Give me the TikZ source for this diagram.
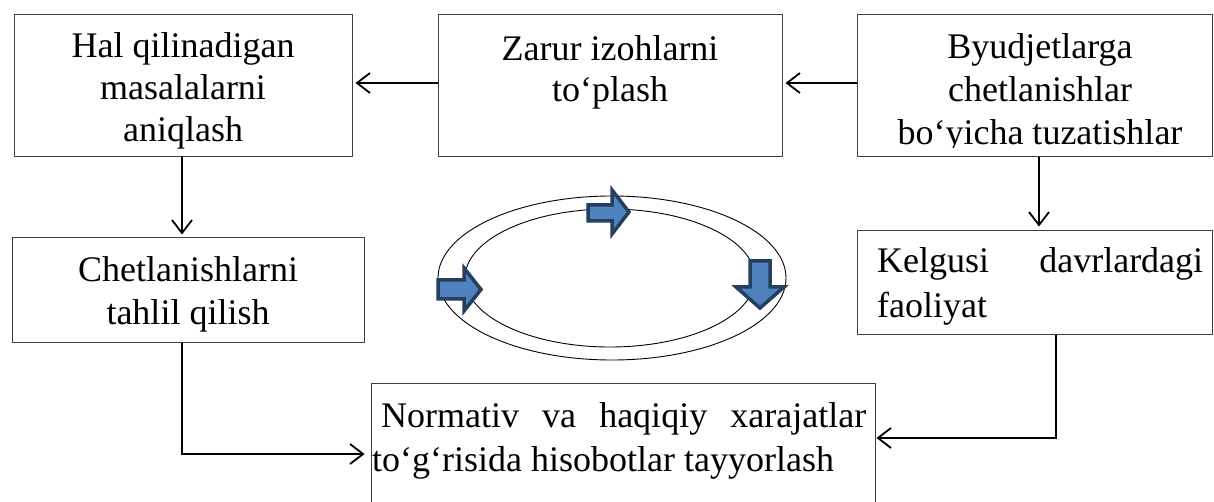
\documentclass[tikz,border=0pt]{standalone}
\usepackage{fontspec}
\setmainfont{Liberation Serif}
\usetikzlibrary{arrows.meta}
\definecolor{arrowfill}{HTML}{4F81BD}
\definecolor{arrowline}{HTML}{243F60}
\newcommand\clines[2]{\vtop{\baselineskip=#1\lineskiplimit=-100pt\halign{\hfil##\hfil\cr#2\crcr}}}
\newcommand\llines[2]{\vtop{\baselineskip=#1\lineskiplimit=-100pt\halign{##\hfil\cr#2\crcr}}}
\begin{document}
\begin{tikzpicture}[x=1pt,y=-1pt,
  font=\fontsize{36}{42}\selectfont,
  box/.style={draw=black!75, line width=1pt, inner sep=0pt},
  txt/.style={inner sep=0pt, anchor=base},
  ltxt/.style={inner sep=0pt, anchor=base west},
  conn/.style={line width=1.8pt, -{Straight Barb[length=13pt,width=20pt,line width=1.8pt]}},
  ring/.style={draw=black, line width=0.9pt},
  blk/.style={fill=arrowfill, draw=arrowline, line width=3.5pt, line join=miter}]
\useasboundingbox (0,0) rectangle (1214,502);
% boxes
\node[box, minimum width=338pt, minimum height=142pt] (b1) at (183,86) {};
\node[box, minimum width=344pt, minimum height=142pt] (b2) at (610,86) {};
\node[box, minimum width=355pt, minimum height=142pt] (b3) at (1034.5,86) {};
\node[box, minimum width=355pt, minimum height=103pt] (b4) at (1034.5,282.5) {};
\node[box, minimum width=352pt, minimum height=104pt] (b5) at (188,290) {};
\node[box, minimum width=504pt, minimum height=127pt] (b6) at (623,446.5) {};
% texts
\node[txt] (t1) at (183,58) {\clines{42pt}{Hal qilinadigan\cr masalalarni\cr aniqlash}};
\node[txt] (t2) at (610,61) {\clines{41pt}{Zarur izohlarni\cr to‘plash}};
\begin{scope}
\clip (b3.north west) rectangle ([yshift=10pt]b3.south east);
\node[txt] (t3) at (1040,59) {\clines{43pt}{Byudjetlarga\cr chetlanishlar\cr bo‘yicha tuzatishlar}};
\end{scope}
\node[ltxt] (t4) at (877,273) {\llines{44pt}{\hbox to 326pt{Kelgusi\hfill davrlardagi}\cr faoliyat}};
\node[txt] (t5) at (188,282) {\clines{43pt}{Chetlanishlarni\cr tahlil qilish}};
\node[ltxt] (t6) at (372,427) {\llines{44pt}{\hskip9pt\hbox to 485pt{Normativ\hfill va\hfill haqiqiy\hfill xarajatlar}\cr to‘g‘risida hisobotlar tayyorlash}};
% connectors
\draw[conn, shorten >=3pt] ([yshift=3pt]b3.west) -- ([yshift=3pt]b2.east);
\draw[conn, shorten >=3pt] ([yshift=3pt]b2.west) -- ([yshift=3pt]b1.east);
\draw[conn, shorten >=4pt] ([xshift=4.5pt]b3.south) -- ([xshift=4.5pt]b4.north);
\draw[conn, shorten >=3pt] ([xshift=-1pt]b1.south) -- ([xshift=-1pt]b1.south |- b5.north);
\draw[conn, shorten >=6pt] ([xshift=-6pt]b5.south) |- ([yshift=-7.5pt]b6.west);
\draw[conn, shorten >=1pt] ([xshift=21.5pt]b4.south) |- ([yshift=8.5pt]b6.east);
% cycle ring
\draw[ring] (612,278) ellipse [x radius=174, y radius=82];
\draw[ring] (610,278) ellipse [x radius=145, y radius=69];
% block arrows
\draw[blk] (438,280) -- (464,280) -- (464,268) -- (481,289.5) -- (464,311) -- (464,299) -- (438,299) -- cycle;
\draw[blk] (588,205) -- (612,205) -- (612,190) -- (629,212) -- (612,234) -- (612,221) -- (588,221) -- cycle;
\draw[blk] (750,261) -- (770,261) -- (770,287) -- (784,287) -- (760,308) -- (736,287) -- (750,287) -- cycle;
\end{tikzpicture}
\end{document}
